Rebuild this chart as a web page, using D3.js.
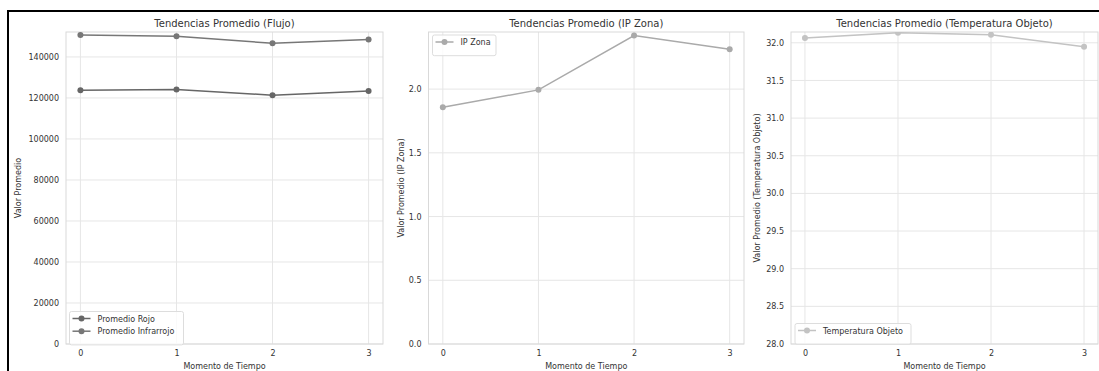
<!DOCTYPE html>
<html><head><meta charset="utf-8">
<script src="https://cdn.jsdelivr.net/npm/d3@7"></script>
<style>
html,body{margin:0;padding:0;background:#fff;}
svg{display:block;font-family:"DejaVu Sans",sans-serif;}
</style></head>
<body>
<svg id="c" width="1099" height="371"></svg>
<script>
const categories = [0, 1, 2, 3];
const xTicks = [0, 1, 2, 3];
const rojo = [123770, 124110, 121340, 123430];
const infrarrojo = [150700, 150090, 146680, 148480];
const ipZona = [1.858, 1.994, 2.42, 2.313];
const tempObjeto = [32.063, 32.134, 32.108, 31.948];
const yTicksFlujo = [0, 20000, 40000, 60000, 80000, 100000, 120000, 140000];
const yTicksIP = [0.0, 0.5, 1.0, 1.5, 2.0];
const yTicksTemp = [28.0, 28.5, 29.0, 29.5, 30.0, 30.5, 31.0, 31.5, 32.0];

const svg = d3.select("#c");
const textCol = "#333";

const panels = [
  {title: "Tendencias Promedio (Flujo)", ylabel: "Valor Promedio", x0: 66, x1: 383, yMin: 0,
   ticks: yTicksFlujo, fmt: d3.format("d"),
   series: [{name: "Promedio Rojo", vals: rojo, color: "#666"}, {name: "Promedio Infrarrojo", vals: infrarrojo, color: "#777"}],
   legend: {x: 69.5, y: 311.5, w: 114}},
  {title: "Tendencias Promedio (IP Zona)", ylabel: "Valor Promedio (IP Zona)", x0: 428.5, x1: 744, yMin: 0,
   ticks: yTicksIP, fmt: d3.format(".1f"),
   series: [{name: "IP Zona", vals: ipZona, color: "#aaa"}],
   legend: {x: 432.5, y: 35, w: 63.5}},
  {title: "Tendencias Promedio (Temperatura Objeto)", ylabel: "Valor Promedio (Temperatura Objeto)", x0: 791, x1: 1098, yMin: 28,
   ticks: yTicksTemp, fmt: d3.format(".1f"),
   series: [{name: "Temperatura Objeto", vals: tempObjeto, color: "#c3c3c3"}],
   legend: {x: 795, y: 323.5, w: 116}}
];
const plotTop = 32, plotBottom = 344;

panels.forEach((p, pi) => {
  const all = p.series.flatMap(s => s.vals);
  const mx = d3.max(all), mn = d3.min(all);
  const x = d3.scaleLinear().domain([-0.15, 3.15]).range([p.x0, p.x1]);
  const y = d3.scaleLinear().domain([p.yMin, mx + 0.05 * (mx - mn)]).range([plotBottom, plotTop]);
  const g = svg.append("g");
  const clipId = "clip" + pi;
  svg.append("clipPath").attr("id", clipId).append("rect")
    .attr("x", p.x0).attr("y", plotTop).attr("width", p.x1 - p.x0).attr("height", plotBottom - plotTop);

  g.selectAll(".gx").data(xTicks).join("line")
    .attr("x1", d => x(d)).attr("x2", d => x(d)).attr("y1", plotTop).attr("y2", plotBottom)
    .attr("stroke", "#e6e6e6").attr("stroke-width", 1);
  g.selectAll(".gy").data(p.ticks).join("line")
    .attr("x1", p.x0).attr("x2", p.x1).attr("y1", d => y(d)).attr("y2", d => y(d))
    .attr("stroke", "#e6e6e6").attr("stroke-width", 1);
  g.append("rect").attr("x", p.x0).attr("y", plotTop).attr("width", p.x1 - p.x0).attr("height", plotBottom - plotTop)
    .attr("fill", "none").attr("stroke", "#d9d9d9").attr("stroke-width", 1);

  const xa = g.append("g").attr("transform", `translate(0,${plotBottom})`)
    .call(d3.axisBottom(x).tickValues(xTicks).tickSize(0).tickPadding(6).tickFormat(d3.format("d")));
  xa.select(".domain").remove();
  xa.selectAll("text").attr("fill", textCol).attr("font-size", 8).attr("font-family", "DejaVu Sans");
  const ya = g.append("g").attr("transform", `translate(${p.x0},0)`)
    .call(d3.axisLeft(y).tickValues(p.ticks).tickSize(0).tickPadding(7).tickFormat(p.fmt));
  ya.select(".domain").remove();
  ya.selectAll("text").attr("fill", textCol).attr("font-size", 8).attr("font-family", "DejaVu Sans");

  g.append("text").attr("x", (p.x0 + p.x1) / 2).attr("y", 26.5).attr("text-anchor", "middle")
    .attr("font-size", 10).attr("fill", textCol).text(p.title);
  g.append("text").attr("x", (p.x0 + p.x1) / 2).attr("y", 369).attr("text-anchor", "middle")
    .attr("font-size", 8).attr("fill", textCol).text("Momento de Tiempo");
  const ylx = pi === 0 ? 21 : (pi === 1 ? 403.5 : 760);
  g.append("text").attr("transform", `translate(${ylx},${(plotTop + plotBottom) / 2}) rotate(-90)`)
    .attr("text-anchor", "middle").attr("font-size", 8).attr("fill", textCol).text(p.ylabel);

  const line = d3.line().x((d, i) => x(categories[i])).y(d => y(d));
  p.series.forEach(s => {
    const sg = g.append("g").attr("clip-path", `url(#${clipId})`);
    sg.append("path").attr("d", line(s.vals)).attr("fill", "none").attr("stroke", s.color).attr("stroke-width", 1.5);
    sg.selectAll("circle").data(s.vals).join("circle")
      .attr("cx", (d, i) => x(categories[i])).attr("cy", d => y(d)).attr("r", 3).attr("fill", s.color);
  });

  const L = p.legend;
  const rowH = 12.7;
  const h = 5 + rowH * p.series.length + 3;
  const lg = g.append("g");
  lg.append("rect").attr("x", L.x).attr("y", L.y).attr("width", L.w).attr("height", h).attr("rx", 2)
    .attr("fill", "rgba(255,255,255,0.8)").attr("stroke", "#ddd").attr("stroke-width", 1);
  p.series.forEach((s, i) => {
    const cy = L.y + 7 + i * rowH;
    lg.append("line").attr("x1", L.x + 3).attr("x2", L.x + 21).attr("y1", cy).attr("y2", cy)
      .attr("stroke", s.color).attr("stroke-width", 1.5);
    lg.append("circle").attr("cx", L.x + 12).attr("cy", cy).attr("r", 3).attr("fill", s.color);
    lg.append("text").attr("x", L.x + 28).attr("y", cy + 3).attr("font-size", 8).attr("fill", textCol).text(s.name);
  });
});

svg.append("rect").attr("x", 8).attr("y", 11).attr("width", 1200).attr("height", 400)
  .attr("fill", "none").attr("stroke", "#000").attr("stroke-width", 2);
</script>
</body></html>
